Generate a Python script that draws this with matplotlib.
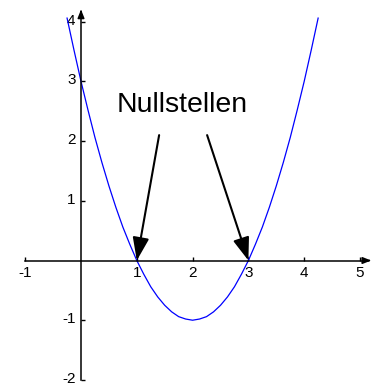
import matplotlib.pyplot as plt
import matplotlib.transforms as mtransforms

# points
x_vals = [-0.25, -0.125, 0.0, 0.125, 0.25, 0.375, 0.5, 0.625, 0.75, 0.875,
          1.0, 1.125, 1.25, 1.375, 1.5, 1.625, 1.75, 1.875, 2.0,
          2.125, 2.25, 2.375, 2.5, 2.625, 2.75, 2.875, 3.0,
          3.125, 3.25, 3.375, 3.5, 3.625, 3.75, 3.875, 4.0, 4.125, 4.25]
y_vals = [4.06, 3.52, 3.0, 2.52, 2.06, 1.64, 1.25, 0.89, 0.56, 0.27,
          0.0, -0.23, -0.44, -0.61, -0.75, -0.86, -0.94, -0.98, -1.0,
          -0.98, -0.94, -0.86, -0.75, -0.61, -0.44, -0.23, 0.0,
          0.27, 0.56, 0.89, 1.25, 1.64, 2.06, 2.52, 3.0, 3.52, 4.06]

x_ticks = [-1, 1, 2, 3, 4, 5]
y_ticks = [-2, -1, 1, 2, 3, 4]
roots = [1.0, 3.0]
label = 'Nullstellen'

plt.rcParams['font.family'] = ['Liberation Sans', 'DejaVu Sans']

fig = plt.figure(figsize=(3.76, 3.85), dpi=100)
ax = fig.add_axes([0, 0, 1, 1])
ax.set_xlim(-1.452, 5.287)
ax.set_ylim(-2.085, 4.363)

ax.plot(x_vals, y_vals, color='#0000ff', linewidth=0.9)

# axes through the origin
for side in ['top', 'right']:
    ax.spines[side].set_visible(False)
ax.spines['left'].set_position(('data', 0))
ax.spines['bottom'].set_position(('data', 0))
ax.spines['left'].set_bounds(-2, 4.15)
ax.spines['bottom'].set_bounds(-1, 5.15)
ax.spines['left'].set_linewidth(1.1)
ax.spines['bottom'].set_linewidth(1.1)
ax.patch.set_visible(False)

ax.set_xticks(x_ticks)
ax.set_yticks(y_ticks)
ax.set_xticklabels([str(t) for t in x_ticks])
ax.set_yticklabels([str(t) for t in y_ticks])
ax.tick_params(direction='in', length=3, width=1, labelsize=11, pad=4)

# y labels sit a little above their ticks
shift = mtransforms.ScaledTranslation(0, 2.5 / 100, fig.dpi_scale_trans)
for lab in ax.get_yticklabels():
    lab.set_transform(lab.get_transform() + shift)

# arrow heads on the axes
ax.annotate('', xy=(5.25, 0), xytext=(5.1, 0),
            arrowprops=dict(arrowstyle='-|>,head_length=0.5,head_width=0.2',
                            color='black', lw=1.1, mutation_scale=10))
ax.annotate('', xy=(0, 4.25), xytext=(0, 4.1),
            arrowprops=dict(arrowstyle='-|>,head_length=0.5,head_width=0.2',
                            color='black', lw=1.1, mutation_scale=10))

ax.text(1.82, 2.6, label, fontsize=20.5, ha='center', va='center')
tails = [(1.40, 2.10), (2.26, 2.10)]
for r, t in zip(roots, tails):
    ax.annotate('', xy=(r, 0.0), xytext=t,
                arrowprops=dict(arrowstyle='-|>,head_length=1.4,head_width=0.5',
                                color='black', lw=1.5, mutation_scale=10,
                                shrinkA=0, shrinkB=0))

fig.savefig('out.png', dpi=100)
